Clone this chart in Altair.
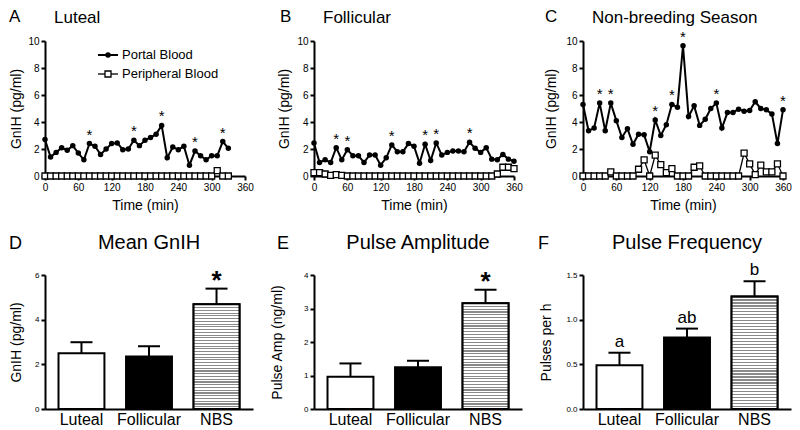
import altair as alt
import pandas as pd

FONT = "Liberation Sans"

# ---------------- time-series data (GnIH, pg/ml) ----------------
luteal_time = [0, 10, 20, 30, 40, 50, 60, 70, 80, 90, 100, 110, 120, 130, 140, 150, 160,
               170, 180, 190, 200, 210, 220, 230, 240, 250, 260, 270, 280, 290, 300, 310, 320, 330]
luteal_portal = [2.7, 1.4, 1.75, 2.1, 1.9, 2.25, 1.7, 1.2, 2.4, 2.2, 1.6, 2.0, 2.4, 2.45, 1.95, 2.0, 2.65,
                 2.25, 2.65, 2.85, 3.1, 3.75, 1.35, 2.15, 1.95, 2.2, 0.8, 1.85, 1.5, 1.2, 1.5, 1.5, 2.55, 2.05]
luteal_peripheral = [0, 0, 0, 0, 0, 0, 0, 0, 0, 0, 0, 0, 0, 0, 0, 0, 0,
                     0, 0, 0, 0, 0, 0, 0, 0, 0, 0, 0, 0, 0, 0, 0.4, 0, 0]
luteal_pulses = [80, 160, 210, 270, 320]

full_time = [0, 10, 20, 30, 40, 50, 60, 70, 80, 90, 100, 110, 120, 130, 140, 150, 160, 170, 180,
             190, 200, 210, 220, 230, 240, 250, 260, 270, 280, 290, 300, 310, 320, 330, 340, 350, 360]
follicular_portal = [2.45, 1.0, 1.2, 1.0, 2.1, 1.2, 1.95, 1.5, 1.5, 1.0, 1.55, 1.55, 0.8, 1.35, 2.3, 1.8, 1.8, 2.4, 2.2,
                     0.95, 2.35, 1.15, 2.45, 1.55, 1.75, 1.85, 1.85, 1.8, 2.5, 2.05, 1.75, 2.1, 1.25, 1.2, 1.6, 1.25, 1.1]
follicular_peripheral = [0.25, 0.25, 0.15, 0.05, 0.1, 0.05, 0, 0, 0, 0, 0, 0, 0, 0, 0, 0, 0, 0, 0,
                         0, 0, 0, 0, 0, 0, 0, 0, 0, 0, 0, 0, 0, 0, 0.15, 0.65, 0.65, 0.55]
follicular_pulses = [40, 60, 140, 200, 220, 280]

nbs_portal = [5.3, 3.35, 3.55, 5.4, 3.35, 5.4, 4.1, 2.85, 3.5, 2.35, 3.1, 3.05, 1.8, 4.15, 3.0, 3.8, 5.3, 5.1, 9.65,
              4.4, 5.2, 3.75, 4.2, 5.0, 5.4, 3.55, 4.7, 4.7, 4.95, 4.8, 4.85, 5.5, 5.0, 4.9, 4.6, 2.4, 4.9]
nbs_peripheral = [0, 0, 0, 0, 0, 0.3, 0, 0, 0, 0, 0.5, 1.2, 0, 1.55, 0.85, 0.25, 0.55, 0, 0,
                  0, 0.65, 0.75, 0, 0, 0, 0, 0, 0, 0, 1.7, 0.9, 0.1, 0.8, 0.3, 0.3, 0.9, 0]
nbs_pulses = [30, 50, 130, 160, 180, 240, 360]

series_names = ["Portal Blood", "Peripheral Blood"]
time_ticks = [0, 60, 120, 180, 240, 300, 360]
gnih_ticks = [0, 2, 4, 6, 8, 10]

# ---------------- summary bar data ----------------
groups = ["Luteal", "Follicular", "NBS"]
mean_gnih = [2.5, 2.35, 4.69]
mean_gnih_sem = [0.49, 0.46, 0.70]
mean_gnih_marks = ["", "", "*"]
pulse_amp = [0.96, 1.25, 3.16]
pulse_amp_sem = [0.40, 0.19, 0.40]
pulse_amp_marks = ["", "", "*"]
pulse_freq = [0.49, 0.80, 1.26]
pulse_freq_sem = [0.14, 0.10, 0.17]
pulse_freq_marks = ["a", "ab", "b"]

TS_W, TS_H = 200, 135
BAR_W, BAR_H = 208, 134
one = pd.DataFrame({"k": [0]})


def ts_panel(times, portal, peripheral, pulses, letter, title, letter_x, ytitle_x, legend=False):
    n = len(times)
    df = pd.DataFrame({
        "time": times + times,
        "value": portal + peripheral,
        "series": [series_names[0]] * n + [series_names[1]] * n,
    })
    stars = pd.DataFrame({"time": pulses, "value": [portal[times.index(t)] for t in pulses]})
    x = alt.X("time:Q", scale=alt.Scale(domain=[0, 360], nice=False, zero=False),
              axis=alt.Axis(values=time_ticks, title="Time (min)", labelFontSize=10, titleFontSize=14,
                            tickSize=4, labelPadding=2, titlePadding=6, labelFlush=False))
    y = alt.Y("value:Q", scale=alt.Scale(domain=[0, 10], nice=False),
              axis=alt.Axis(values=gnih_ticks, title="GnIH (pg/ml)", labelFontSize=10, titleFontSize=14,
                            tickSize=4, labelPadding=2, titleX=ytitle_x, titleBaseline="middle"))
    base = alt.Chart(df)
    portal_f = alt.datum.series == series_names[0]
    periph_f = alt.datum.series == series_names[1]
    layers = [
        base.transform_filter(portal_f).mark_line(color="black", strokeWidth=2).encode(x=x, y=y),
        base.transform_filter(portal_f).mark_circle(color="black", size=30, opacity=1).encode(x=x, y=y),
        base.transform_filter(periph_f).mark_line(color="black", strokeWidth=1.3).encode(x=x, y=y),
        base.transform_filter(periph_f).mark_point(shape="square", filled=True, fill="white", stroke="black",
                                                   strokeWidth=1.3, size=36, opacity=1).encode(x=x, y=y),
        alt.Chart(stars).mark_text(text="*", fontSize=15, baseline="alphabetic", dy=-4,
                                   color="black").encode(x=x, y=y),
        alt.Chart(one).mark_text(text=letter, fontSize=17, align="left", baseline="middle",
                                 color="black").encode(x=alt.value(letter_x), y=alt.value(-24)),
        alt.Chart(one).mark_text(text=title, fontSize=17, align="left", baseline="middle",
                                 color="black").encode(x=alt.value(9), y=alt.value(-23)),
    ]
    if legend:
        layers += [
            alt.Chart(one).mark_rule(color="black", strokeWidth=2).encode(
                x=alt.value(53), x2=alt.value(73), y=alt.value(14)),
            alt.Chart(one).mark_circle(color="black", size=30, opacity=1).encode(
                x=alt.value(63), y=alt.value(14)),
            alt.Chart(one).mark_rule(color="black", strokeWidth=1.3).encode(
                x=alt.value(53), x2=alt.value(73), y=alt.value(33)),
            alt.Chart(one).mark_point(shape="square", filled=True, fill="white", stroke="black",
                                      strokeWidth=1.3, size=36, opacity=1).encode(
                x=alt.value(63), y=alt.value(33)),
            alt.Chart(one).mark_text(text=series_names[0], fontSize=13, align="left", baseline="middle",
                                     color="black").encode(x=alt.value(77), y=alt.value(14)),
            alt.Chart(one).mark_text(text=series_names[1], fontSize=13, align="left", baseline="middle",
                                     color="black").encode(x=alt.value(77), y=alt.value(33)),
        ]
    return alt.layer(*layers).properties(width=TS_W, height=TS_H)


# hatch (horizontal stripes) for NBS bars
N_STRIPES = 38
stops = []
for k in range(N_STRIPES):
    a = k / N_STRIPES
    b = (k + 0.4) / N_STRIPES
    c = (k + 1) / N_STRIPES
    stops += [alt.GradientStop(color="#8a8a8a", offset=a), alt.GradientStop(color="#8a8a8a", offset=b),
              alt.GradientStop(color="white", offset=b), alt.GradientStop(color="white", offset=c)]
hatch = alt.LinearGradient(gradient="linear", stops=stops, x1=0, x2=0, y1=0, y2=1)


def bar_panel(means, sems, marks, letter, title, ytitle, ydomain, yticks, yfmt, letter_x, ytitle_x,
              mark_size, mark_weight, mark_dy):
    df = pd.DataFrame({"group": groups, "mean": means,
                       "upper": [m + s for m, s in zip(means, sems)], "mark": marks})
    x = alt.X("group:N", sort=groups, scale=alt.Scale(paddingInner=0.32, paddingOuter=0.2),
              axis=alt.Axis(title=None, labelAngle=0, labelFontSize=16, ticks=False, tickSize=0,
                            labelPadding=2))
    yaxis = alt.Axis(values=yticks, format=yfmt, labelFontSize=8, tickSize=4, labelPadding=2,
                     title=ytitle, titleFontSize=14, titleX=ytitle_x, titleBaseline="middle")
    yscale = alt.Scale(domain=ydomain, nice=False)
    base = alt.Chart(df)
    layers = [
        base.mark_bar(stroke="black", strokeWidth=2).encode(
            x=x, y=alt.Y("mean:Q", scale=yscale, axis=yaxis),
            fill=alt.Fill("group:N", scale=alt.Scale(domain=groups, range=["white", "black", "white"]),
                          legend=None)),
        base.transform_filter(alt.datum.group == "NBS").mark_bar(fill=hatch, stroke="black", strokeWidth=2).encode(
            x=x, y=alt.Y("mean:Q", scale=yscale, axis=yaxis)),
        base.mark_rule(color="black", strokeWidth=2).encode(
            x=x, y=alt.Y("mean:Q", scale=yscale, axis=yaxis), y2="upper:Q"),
        base.mark_tick(color="black", size=22, thickness=2, opacity=1).encode(
            x=x, y=alt.Y("upper:Q", scale=yscale, axis=yaxis)),
        base.mark_text(fontSize=mark_size, fontWeight=mark_weight, baseline="alphabetic", dy=mark_dy,
                       color="black").encode(
            x=x, y=alt.Y("upper:Q", scale=yscale, axis=yaxis), text="mark:N"),
        alt.Chart(one).mark_text(text=letter, fontSize=18, align="left", baseline="middle",
                                 color="black").encode(x=alt.value(letter_x), y=alt.value(-31)),
        alt.Chart(one).mark_text(text=title, fontSize=20, align="center", baseline="middle",
                                 color="black").encode(x=alt.value(BAR_W / 2), y=alt.value(-32)),
    ]
    return alt.layer(*layers).properties(width=BAR_W, height=BAR_H)


pA = ts_panel(luteal_time, luteal_portal, luteal_peripheral, luteal_pulses, "A", "Luteal", -36, -29, legend=True)
pB = ts_panel(full_time, follicular_portal, follicular_peripheral, follicular_pulses, "B", "Follicular", -34, -30)
pC = ts_panel(full_time, nbs_portal, nbs_peripheral, nbs_pulses, "C", "Non-breeding Season", -38, -32)

pD = bar_panel(mean_gnih, mean_gnih_sem, mean_gnih_marks, "D", "Mean GnIH", "GnIH (pg/ml)",
               [0, 6], [0, 2, 4, 6], "d", -36, -29, 26, "bold", 0)
pE = bar_panel(pulse_amp, pulse_amp_sem, pulse_amp_marks, "E", "Pulse Amplitude", "Pulse Amp (ng/ml)",
               [0, 4], [0, 1, 2, 3, 4], "d", -37, -37, 26, "bold", 0)
pF = bar_panel(pulse_freq, pulse_freq_sem, pulse_freq_marks, "F", "Pulse Frequency", "Pulses per h",
               [0, 1.5], [0, 0.5, 1.0, 1.5], ".1f", -45, -37, 17, "normal", -6)

chart = alt.concat(pA, pB, pC, pD, pE, pF, columns=3, bounds="flush",
                   spacing={"row": 99, "column": 61}).properties(
    padding={"left": 0, "top": 0, "right": 0, "bottom": 0}
).configure(font=FONT).configure_view(stroke=None).configure_axis(
    grid=False, domainColor="black", domainWidth=2, tickColor="black", tickWidth=2,
    labelColor="black", titleColor="black", labelFont=FONT, titleFont=FONT, titleFontWeight="normal"
)

chart.save("out.html", embed_options={"renderer": "svg", "actions": False})
